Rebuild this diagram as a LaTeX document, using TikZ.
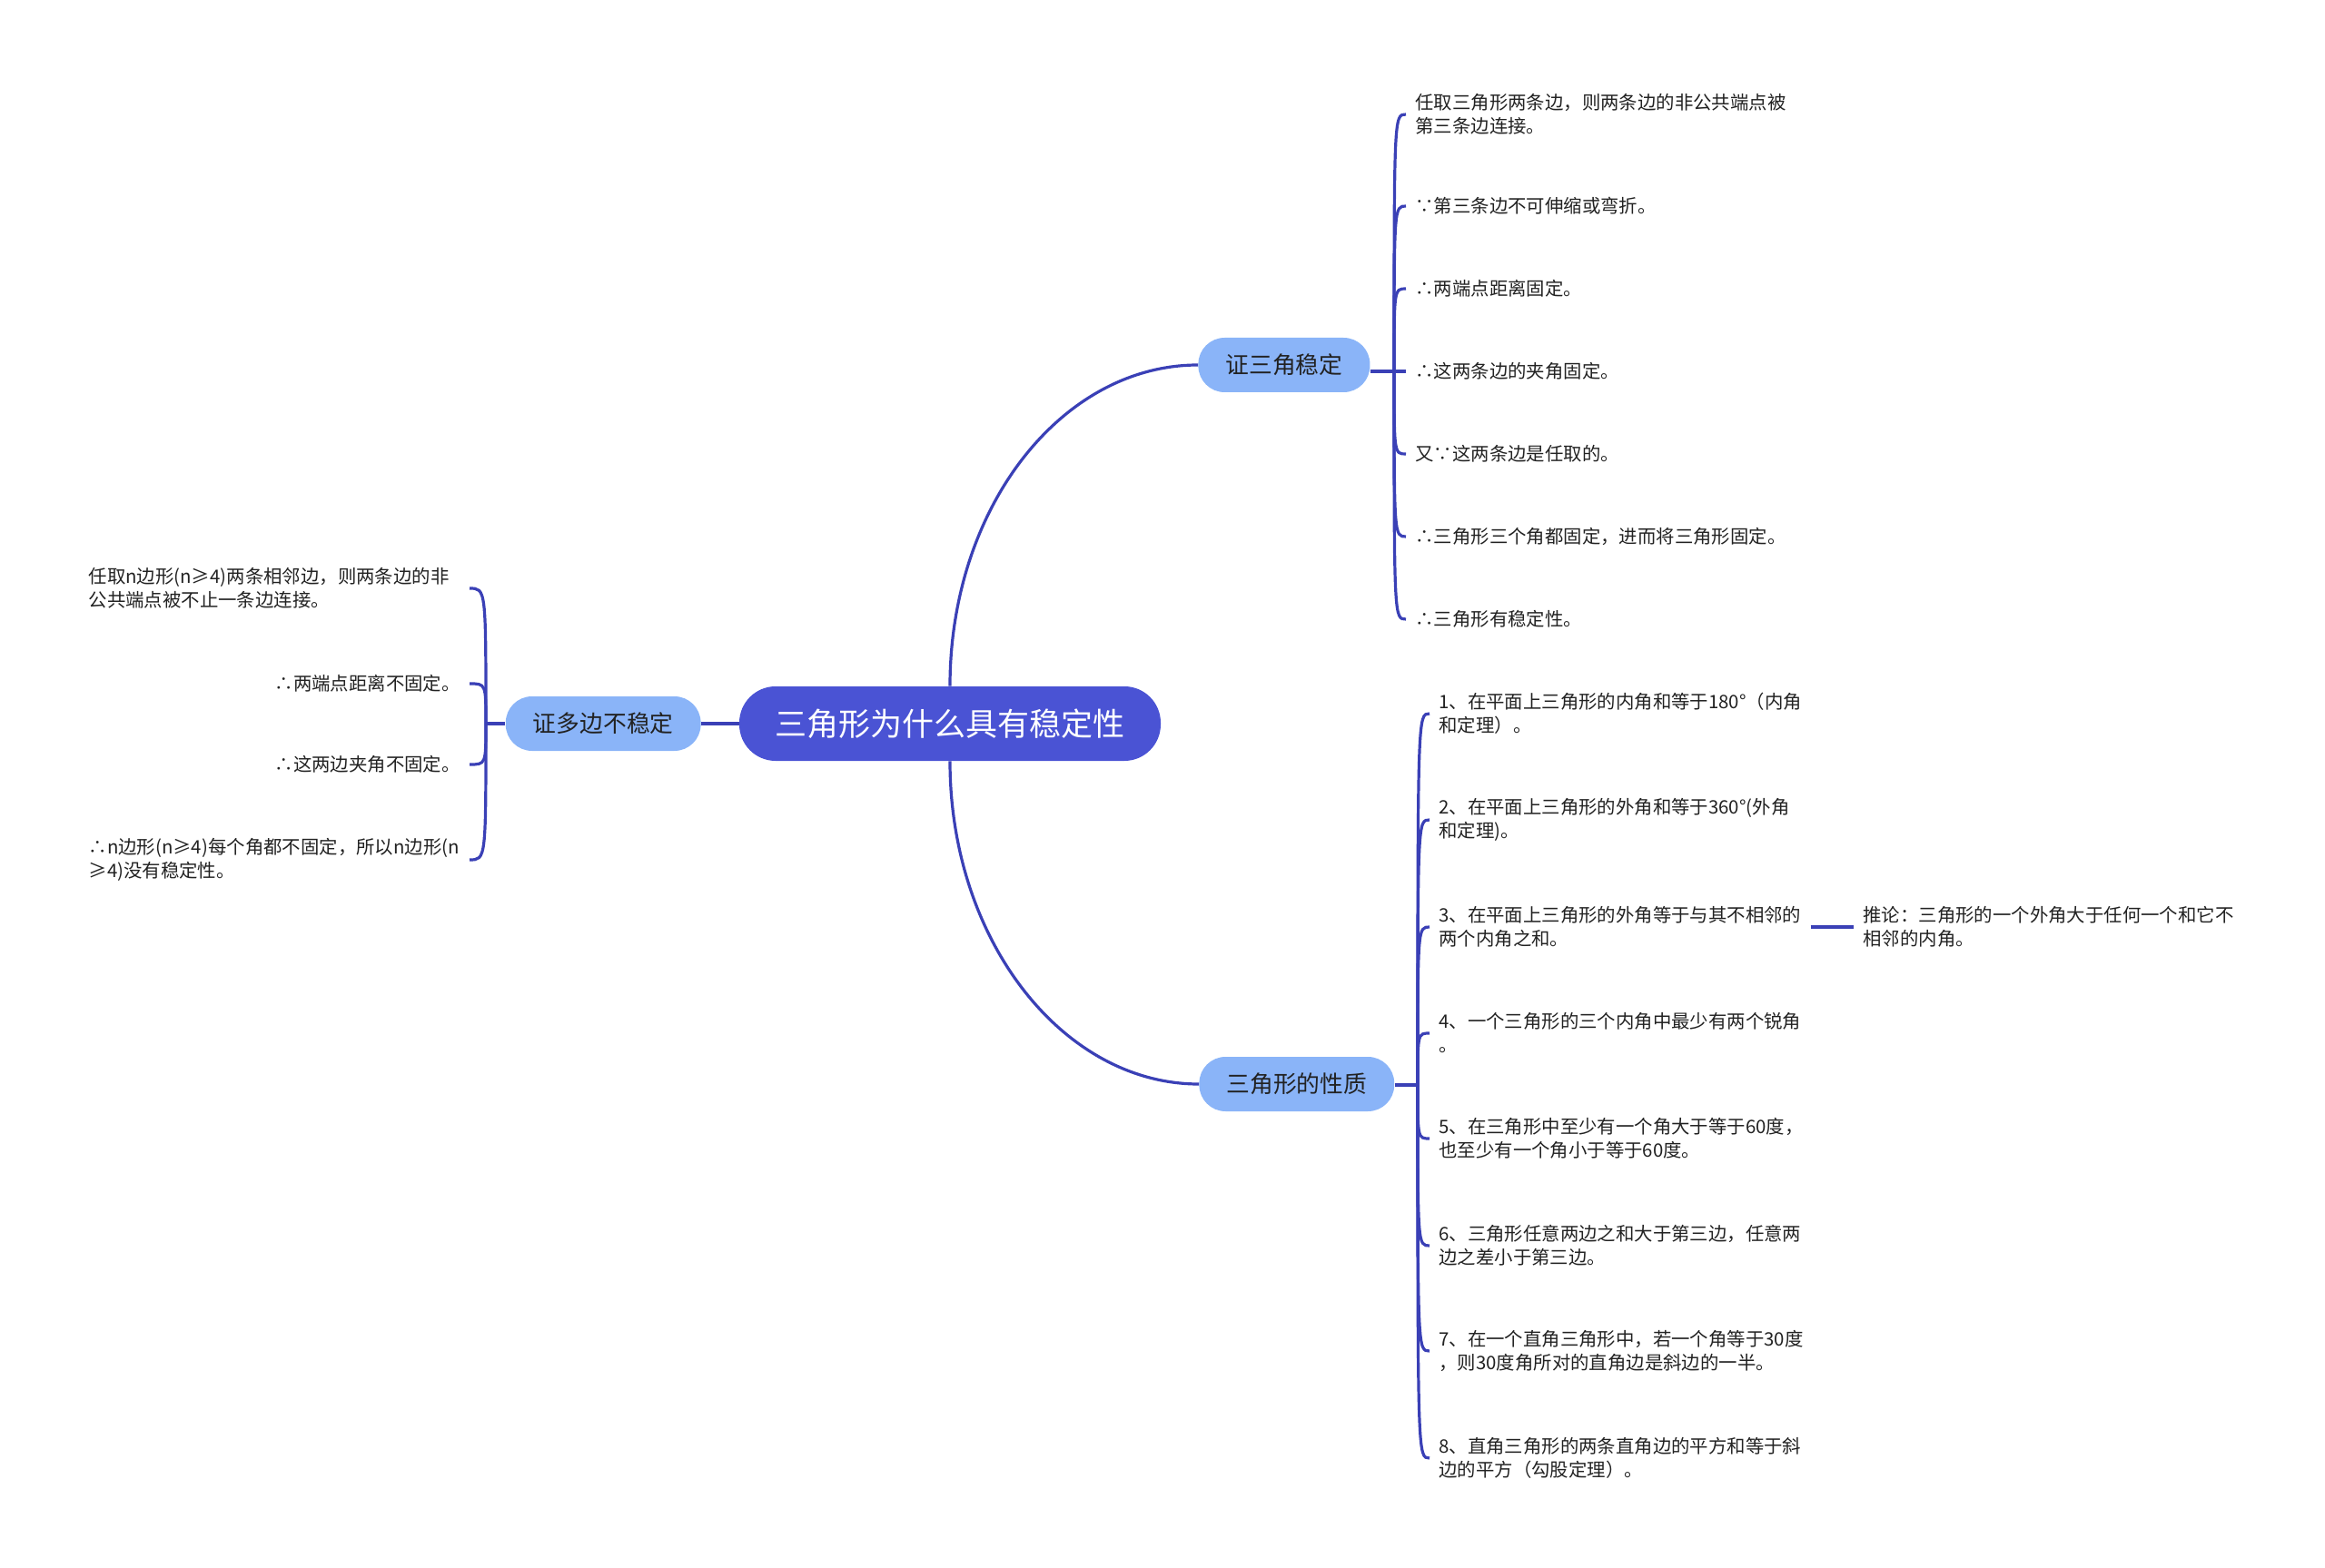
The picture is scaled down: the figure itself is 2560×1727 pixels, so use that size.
\documentclass[tikz,border=0pt]{standalone}
\usepackage{fontspec}
\setmainfont{Noto Sans CJK SC}
\definecolor{rootblue}{HTML}{4A53D4}
\definecolor{subblue}{HTML}{8AB4F8}
\definecolor{linkblue}{HTML}{3A40B6}
\definecolor{inkgray}{HTML}{222222}

\begin{document}
\begin{tikzpicture}[x=0.5pt, y=-0.5pt,
    root/.style={fill=rootblue, text=white, rounded corners=20pt, minimum width=232pt,
        minimum height=41pt, font=\fontsize{17.5pt}{20pt}\selectfont},
    topic/.style={fill=subblue, text=inkgray, rounded corners=14.5pt, minimum height=30pt,
        inner xsep=15pt, font=\fontsize{12.9pt}{15pt}\selectfont},
    leaf/.style={text=inkgray, align=left, inner xsep=5pt, inner ysep=2pt,
        font=\fontsize{10.2pt}{13pt}\selectfont},
    link/.style={draw=linkblue, line width=1.6pt}]
    \useasboundingbox (0,0) rectangle (2560,1727);

    % Draw the central node
    \node[root] (r) at (1046, 797) {三角形为什么具有稳定性};

    % Draw the three topic nodes
    \node[topic, anchor=west] (b1) at (1319, 402) {证三角稳定};
    \node[topic, anchor=east] (b2) at (772, 797) {证多边不稳定};
    \node[topic, anchor=west] (b3) at (1320, 1194) {三角形的性质};

    % Spine points of the brackets
    \coordinate (sa) at (1535, 409);
    \coordinate (sc) at (1561, 1195);
    \coordinate (sd) at (535, 797);

    % Draw leaves for 证三角稳定
    \node[leaf, anchor=west] (a1) at (1548, 126) {任取三角形两条边，则两条边的非公共端点被\\第三条边连接。};
    \node[leaf, anchor=west] (a2) at (1548, 227) {∵第三条边不可伸缩或弯折。};
    \node[leaf, anchor=west] (a3) at (1548, 318) {∴两端点距离固定。};
    \node[leaf, anchor=west] (a4) at (1548, 409) {∴这两条边的夹角固定。};
    \node[leaf, anchor=west] (a5) at (1548, 500) {又∵这两条边是任取的。};
    \node[leaf, anchor=west] (a6) at (1548, 591) {∴三角形三个角都固定，进而将三角形固定。};
    \node[leaf, anchor=west] (a7) at (1548, 682) {∴三角形有稳定性。};

    % Draw leaves for 三角形的性质
    \node[leaf, anchor=west] (c1) at (1574, 786) {1、在平面上三角形的内角和等于180°（内角\\和定理）。};
    \node[leaf, anchor=west] (c2) at (1574, 903) {2、在平面上三角形的外角和等于360°(外角\\和定理)。};
    \node[leaf, anchor=west] (c3) at (1574, 1021) {3、在平面上三角形的外角等于与其不相邻的\\两个内角之和。};
    \node[leaf, anchor=west] (c4) at (1574, 1138) {4、一个三角形的三个内角中最少有两个锐角\\。};
    \node[leaf, anchor=west] (c5) at (1574, 1254) {5、在三角形中至少有一个角大于等于60度，\\也至少有一个角小于等于60度。};
    \node[leaf, anchor=west] (c6) at (1574, 1372) {6、三角形任意两边之和大于第三边，任意两\\边之差小于第三边。};
    \node[leaf, anchor=west] (c7) at (1574, 1488) {7、在一个直角三角形中，若一个角等于30度\\，则30度角所对的直角边是斜边的一半。};
    \node[leaf, anchor=west] (c8) at (1574, 1606) {8、直角三角形的两条直角边的平方和等于斜\\边的平方（勾股定理）。};
    \node[leaf, anchor=west] (e1) at (2041, 1021) {推论：三角形的一个外角大于任何一个和它不\\相邻的内角。};

    % Draw leaves for 证多边不稳定
    \node[leaf, anchor=east, text width=204.5pt] (d1) at (517, 648) {任取n边形(n≥4)两条相邻边，则两条边的非\\公共端点被不止一条边连接。};
    \node[leaf, anchor=east] (d2) at (517, 753) {∴两端点距离不固定。};
    \node[leaf, anchor=east] (d3) at (517, 842) {∴这两边夹角不固定。};
    \node[leaf, anchor=east, text width=204.5pt] (d4) at (517, 947) {∴n边形(n≥4)每个角都不固定，所以n边形(n\\≥4)没有稳定性。};

    % Draw the main branches
    \draw[link] (r.north) .. controls +(0,-197) and +(-150,0) .. (b1.west);
    \draw[link] (r.south) .. controls +(0,197) and +(-150,0) .. (b3.west);
    \draw[link] (r.west) -- (b2.east);

    % Bracket of 证三角稳定
    \draw[link] (b1.east |- sa) -- (sa);
    \draw[link] (sa) .. controls (sa |- a1) and (sa |- a1) .. (a1.west);
    \draw[link] (sa) .. controls (sa |- a2) and (sa |- a2) .. (a2.west);
    \draw[link] (sa) .. controls (sa |- a3) and (sa |- a3) .. (a3.west);
    \draw[link] (sa) -- (a4.west);
    \draw[link] (sa) .. controls (sa |- a5) and (sa |- a5) .. (a5.west);
    \draw[link] (sa) .. controls (sa |- a6) and (sa |- a6) .. (a6.west);
    \draw[link] (sa) .. controls (sa |- a7) and (sa |- a7) .. (a7.west);

    % Bracket of 三角形的性质
    \draw[link] (b3.east |- sc) -- (sc);
    \draw[link] (sc) .. controls (sc |- c1) and (sc |- c1) .. (c1.west);
    \draw[link] (sc) .. controls (sc |- c2) and (sc |- c2) .. (c2.west);
    \draw[link] (sc) .. controls (sc |- c3) and (sc |- c3) .. (c3.west);
    \draw[link] (sc) .. controls (sc |- c4) and (sc |- c4) .. (c4.west);
    \draw[link] (sc) .. controls (sc |- c5) and (sc |- c5) .. (c5.west);
    \draw[link] (sc) .. controls (sc |- c6) and (sc |- c6) .. (c6.west);
    \draw[link] (sc) .. controls (sc |- c7) and (sc |- c7) .. (c7.west);
    \draw[link] (sc) .. controls (sc |- c8) and (sc |- c8) .. (c8.west);
    \draw[link] (c3.east) -- (e1.west); % corollary

    % Bracket of 证多边不稳定
    \draw[link] (b2.west) -- (sd);
    \draw[link] (sd) .. controls (sd |- d1) and (sd |- d1) .. (d1.east);
    \draw[link] (sd) .. controls (sd |- d2) and (sd |- d2) .. (d2.east);
    \draw[link] (sd) .. controls (sd |- d3) and (sd |- d3) .. (d3.east);
    \draw[link] (sd) .. controls (sd |- d4) and (sd |- d4) .. (d4.east);
\end{tikzpicture}
\end{document}
